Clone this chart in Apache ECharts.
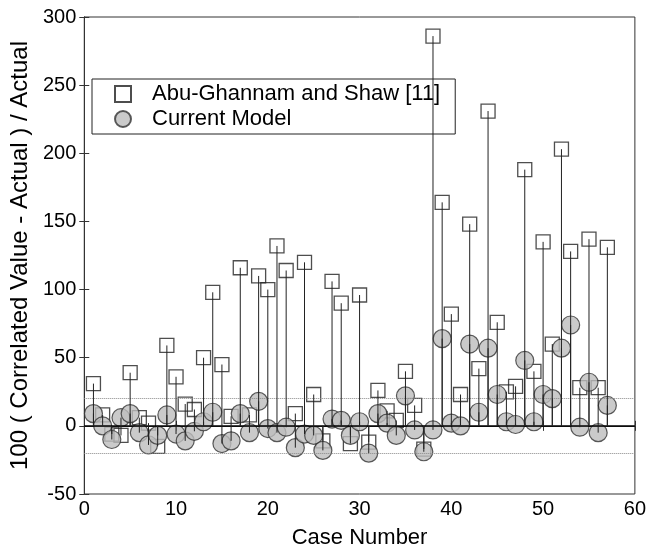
<!DOCTYPE html>
<html>
<head>
<meta charset="utf-8">
<script src="https://cdn.jsdelivr.net/npm/echarts@6/dist/echarts.min.js"></script>
<style>
html,body{margin:0;padding:0;background:#fff;}
#chart{width:649px;height:554px;}
</style>
</head>
<body>
<div id="chart"></div>
<script>
const cases = [1,2,3,4,5,6,7,8,9,10,11,12,13,14,15,16,17,18,19,20,21,22,23,24,25,26,27,28,29,30,31,32,33,34,35,36,37,38,39,40,41,42,43,44,45,46,47,48,49,50,51,52,53,54,55,56,57];
const abuGhannam = [31,8,-6,-7,39,6,2,-15,59,36,16,12,50,98,45,7,116,8,110,100,132,114,9,120,23,-11,106,90,-13,96,-12,26,11,4,40,15,-17,286,164,82,23,148,42,231,76,25,29,188,40,135,60,203,128,28,137,28,131];
const currentModel = [9,0,-10,6,9,-5,-14,-7,8,-6,-11,-4,3,10,-13,-11,9,-5,18,-2,-5,-1,-16,-6,-7,-18,5,4,-7,3,-20,9,2,-7,22,-3,-19,-3,64,2,0,60,10,57,23,3,1,48,3,23,20,57,74,-1,32,-5,15];
const xTicks = {min:0, max:60, interval:10};
const yTicks = {min:-50, max:300, interval:50};
const guideLevels = [20, -20];

const abuData = cases.map((c,i)=>[c, abuGhannam[i]]);
const curData = cases.map((c,i)=>[c, currentModel[i]]);

function stem(color){
  return function(params, api){
    const x = api.value(0), y = api.value(1);
    const p0 = api.coord([x, 0]);
    const p1 = api.coord([x, y]);
    return {type:'line', shape:{x1:p0[0], y1:p0[1], x2:p1[0], y2:p1[1]}, style:{stroke:color, lineWidth:1}};
  };
}

const font = 'Liberation Sans, Arial, sans-serif';
const axisColor = '#333';
const chart = echarts.init(document.getElementById('chart'));
chart.setOption({
  animation:false,
  textStyle:{fontFamily:font},
  grid:{left:82, right:12, top:17, bottom:59, show:true, borderColor:axisColor, borderWidth:1, backgroundColor:'#fff'},
  legend:{
    data:['Abu-Ghannam and Shaw [11]','Current Model'],
    orient:'vertical', left:92, top:79,
    itemWidth:16, itemHeight:16, itemGap:3,
    padding:[4,15,4,22],
    borderColor:'#222', borderWidth:1, backgroundColor:'#fff',
    textStyle:{fontSize:22, color:'#000', fontFamily:font, padding:[0,0,0,16]}
  },
  xAxis:[{
    type:'value', min:xTicks.min, max:xTicks.max, interval:xTicks.interval, position:'bottom',
    axisLine:{show:true, lineStyle:{color:axisColor, width:1}},
    axisTick:{show:true, inside:true, length:5, lineStyle:{color:axisColor}},
    axisLabel:{fontSize:20, color:'#000', margin:5, fontFamily:font},
    splitLine:{show:false},
    name:'Case Number', nameLocation:'middle', nameGap:33,
    nameTextStyle:{fontSize:22, color:'#000', fontFamily:font}
  },{
    type:'value', min:xTicks.min, max:xTicks.max, interval:xTicks.interval, position:'top',
    axisLine:{show:true, lineStyle:{color:axisColor, width:1}},
    axisTick:{show:true, inside:true, length:5, lineStyle:{color:axisColor}},
    axisLabel:{show:false}, splitLine:{show:false}
  }],
  yAxis:[{
    type:'value', min:yTicks.min, max:yTicks.max, interval:yTicks.interval, position:'left',
    axisLine:{show:true, lineStyle:{color:axisColor, width:1}},
    axisTick:{show:true, inside:true, length:5, lineStyle:{color:axisColor}},
    axisLabel:{fontSize:20, color:'#000', margin:8, fontFamily:font},
    splitLine:{show:false},
    name:'100 ( Correlated Value - Actual ) / Actual', nameLocation:'middle', nameGap:51, nameRotate:90,
    nameTextStyle:{fontSize:24, color:'#000', fontFamily:font}
  },{
    type:'value', min:yTicks.min, max:yTicks.max, interval:yTicks.interval, position:'right',
    axisLine:{show:true, lineStyle:{color:axisColor, width:1}},
    axisTick:{show:true, inside:true, length:5, lineStyle:{color:axisColor}},
    axisLabel:{show:false}, splitLine:{show:false}
  }],
  series:[
    {
      name:'guides', type:'line', data:[], silent:true,
      markLine:{
        silent:true, symbol:'none', label:{show:false},
        data:[
          {yAxis:guideLevels[0], lineStyle:{type:'dotted', color:'#888', width:1}},
          {yAxis:guideLevels[1], lineStyle:{type:'dotted', color:'#888', width:1}},
          {yAxis:0, lineStyle:{type:'solid', color:'#000', width:1.5}}
        ]
      }
    },
    {name:'frame', type:'scatter', xAxisIndex:1, yAxisIndex:1, data:[], silent:true},
    {
      name:'Abu-Ghannam and Shaw [11]', type:'scatter', data:abuData,
      symbol:'rect', symbolSize:14, z:3,
      itemStyle:{color:'rgba(255,255,255,0)', borderColor:'#222', borderWidth:1.3}
    },
    {
      name:'Current Model', type:'scatter', data:curData,
      symbol:'circle', symbolSize:18, z:4,
      itemStyle:{color:'#bdbdbd', borderColor:'#333', borderWidth:1.2}
    },
    {name:'abuStem', type:'custom', data:abuData, renderItem:stem('#222'), z:5, silent:true},
    {name:'curStem', type:'custom', data:curData, renderItem:stem('#222'), z:5, silent:true}
  ]
});
</script>
</body>
</html>
